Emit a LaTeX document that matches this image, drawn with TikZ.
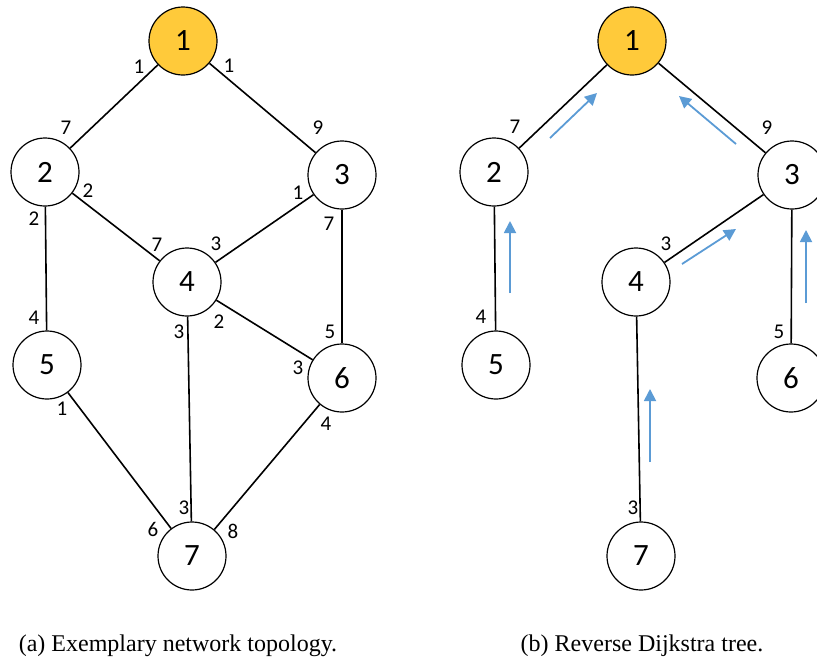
\documentclass[tikz,border=0pt]{standalone}
\usepackage{fontspec}
\setmainfont{Carlito}
\newfontfamily\capfont{Liberation Serif}
\usetikzlibrary{arrows.meta}
\definecolor{gold}{RGB}{255,202,58}
\definecolor{flow}{RGB}{91,155,213}
\begin{document}
\begin{tikzpicture}[x=1pt,y=-1pt,
 vertex/.style={circle,draw=black,line width=1.2pt,minimum size=68pt,inner sep=0pt,font=\fontsize{31}{31}\selectfont},
 root/.style={vertex,fill=gold},
 link/.style={draw=black,line width=1.6pt},
 wt/.style={inner sep=0pt,font=\fontsize{21}{21}\selectfont},
 flowarrow/.style={draw=flow,line width=1.8pt,-{Triangle[length=12pt,width=12pt]}},
 capt/.style={inner sep=0pt,font=\capfont\fontsize{24}{24}\selectfont}]
\clip (0,0) rectangle (817,662);
% ---------- (a) ----------
\node[root]   (a1) at (183,41)  {1};
\node[vertex] (a2) at (45,172)  {2};
\node[vertex] (a3) at (342,175) {3};
\node[vertex] (a4) at (187,282) {4};
\node[vertex] (a5) at (47,365)  {5};
\node[vertex] (a6) at (342,378) {6};
\node[vertex] (a7) at (192,556) {7};
\draw[link] (a1) -- (a2);
\draw[link] (a1) -- (a3);
\draw[link] (a2) -- (a4);
\draw[link] (a3) -- (a4);
\draw[link] (a2) -- (a5);
\draw[link] (a3) -- (a6);
\draw[link] (a4) -- (a6);
\draw[link] (a4) -- (a7);
\draw[link] (a5) -- (a7);
\draw[link] (a6) -- (a7);
\node[wt] (w12a) at (139,67)  {1};
\node[wt] (w12b) at (66,128)  {7};
\node[wt] (w13a) at (229,66)  {1};
\node[wt] (w13b) at (318,128) {9};
\node[wt] (w24a) at (88,191)  {2};
\node[wt] (w24b) at (157,245) {7};
\node[wt] (w34a) at (298,193) {1};
\node[wt] (w34b) at (216,244) {3};
\node[wt] (w25a) at (34,219)  {2};
\node[wt] (w25b) at (34,318)  {4};
\node[wt] (w36a) at (329,224) {7};
\node[wt] (w36b) at (330,332) {5};
\node[wt] (w46a) at (219,322) {2};
\node[wt] (w46b) at (298,368) {3};
\node[wt] (w47a) at (179,332) {3};
\node[wt] (w47b) at (184,508) {3};
\node[wt] (w57a) at (62,409)  {1};
\node[wt] (w57b) at (153,529) {6};
\node[wt] (w67a) at (326,424) {4};
\node[wt] (w67b) at (233,531) {8};
% ---------- (b) ----------
\node[root]   (b1) at (632,41)  {1};
\node[vertex] (b2) at (494,172) {2};
\node[vertex] (b3) at (792,175) {3};
\node[vertex] (b4) at (636,282) {4};
\node[vertex] (b5) at (496,365) {5};
\node[vertex] (b6) at (791,378) {6};
\node[vertex] (b7) at (641,556) {7};
\draw[link] (b1) -- (b2);
\draw[link] (b1) -- (b3);
\draw[link] (b3) -- (b4);
\draw[link] (b2) -- (b5);
\draw[link] (b3) -- (b6);
\draw[link] (b4) -- (b7);
\node[wt] (v12) at (515,127) {7};
\node[wt] (v13) at (767,128) {9};
\node[wt] (v34) at (666,244) {3};
\node[wt] (v25) at (481,317) {4};
\node[wt] (v36) at (779,332) {5};
\node[wt] (v47) at (633,508) {3};
\coordinate (f21s) at (550,138); \coordinate (f21e) at (597,93);
\coordinate (f31s) at (736,144); \coordinate (f31e) at (679,96);
\coordinate (f52s) at (510,293); \coordinate (f52e) at (510,221);
\coordinate (f43s) at (682,264); \coordinate (f43e) at (736,229);
\coordinate (f63s) at (806,303); \coordinate (f63e) at (806,230);
\coordinate (f74s) at (650,462); \coordinate (f74e) at (650,389);
\draw[flowarrow] (f21s) -- (f21e);
\draw[flowarrow] (f31s) -- (f31e);
\draw[flowarrow] (f52s) -- (f52e);
\draw[flowarrow] (f43s) -- (f43e);
\draw[flowarrow] (f63s) -- (f63e);
\draw[flowarrow] (f74s) -- (f74e);
% ---------- captions ----------
\node[capt] (capa) at (178,646) {(a) Exemplary network topology.};
\node[capt] (capb) at (642,646) {(b) Reverse Dijkstra tree.};
\end{tikzpicture}
\end{document}
